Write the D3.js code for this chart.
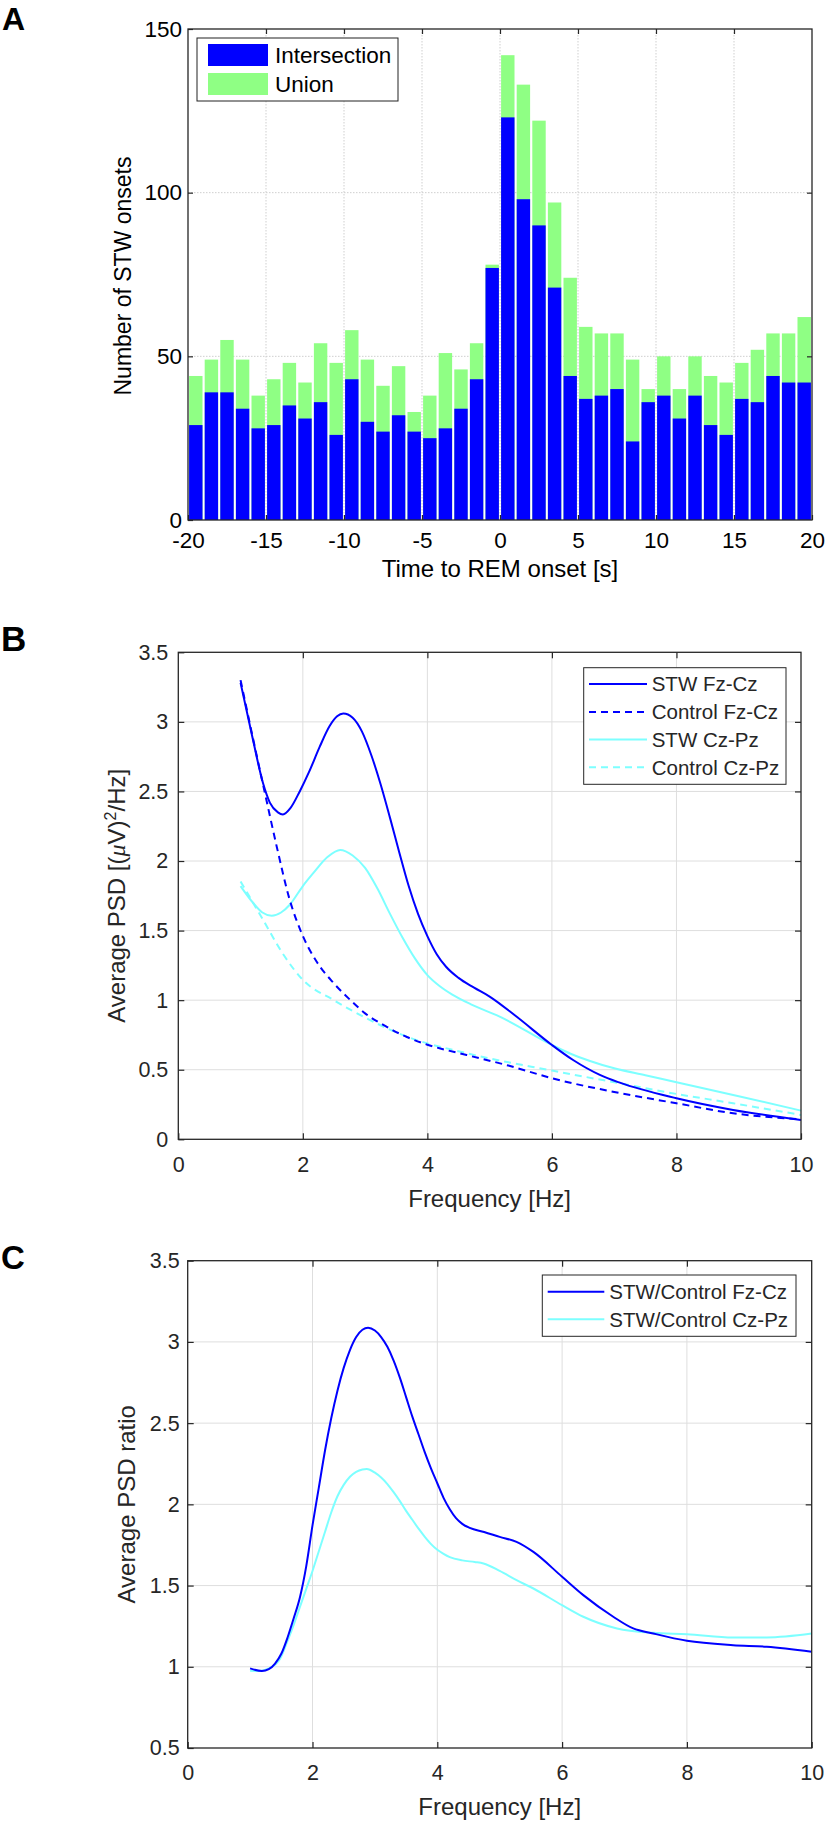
<!DOCTYPE html>
<html><head><meta charset="utf-8">
<script src="https://cdn.jsdelivr.net/npm/d3@7"></script>
<style>
body{margin:0;background:#fff}
svg{display:block}
text{font-family:"Liberation Sans",Arial,Helvetica,sans-serif}
</style>
</head><body>
<svg id="chart" width="826" height="1821"></svg>
<script>
// ---------- Panel A data ----------
const binCenters = [-19.5,-18.5,-17.5,-16.5,-15.5,-14.5,-13.5,-12.5,-11.5,-10.5,-9.5,-8.5,-7.5,-6.5,-5.5,-4.5,-3.5,-2.5,-1.5,-0.5,
  0.5,1.5,2.5,3.5,4.5,5.5,6.5,7.5,8.5,9.5,10.5,11.5,12.5,13.5,14.5,15.5,16.5,17.5,18.5,19.5];
const intersectionCounts = [29,39,39,34,28,29,35,31,36,26,43,30,27,32,27,25,28,34,43,77,
  123,98,90,71,44,37,38,40,24,36,38,31,38,29,26,37,36,44,42,42];
const unionCounts = [44,49,55,49,38,43,48,42,54,48,58,49,41,47,33,38,51,46,54,78,
  142,133,122,97,74,59,57,57,49,40,50,40,50,44,42,48,52,57,57,62];
const aXTicks = [-20,-15,-10,-5,0,5,10,15,20];
const aYTicks = [0,50,100,150];

// ---------- Panel B data (frequency Hz, PSD) ----------
const stwFzCz = [[1.0,3.28],[1.2,2.87],[1.36,2.56],[1.47,2.42],[1.6,2.35],[1.68,2.335],[1.8,2.38],[1.95,2.50],[2.1,2.64],
  [2.27,2.82],[2.43,2.97],[2.55,3.04],[2.65,3.06],[2.8,3.03],[2.95,2.93],[3.1,2.76],[3.25,2.55],[3.4,2.31],[3.55,2.06],
  [3.7,1.82],[3.85,1.62],[4.0,1.46],[4.15,1.33],[4.3,1.24],[4.5,1.16],[4.75,1.09],[5.0,1.026],[5.43,0.882],[6.0,0.678],
  [6.34,0.57],[6.77,0.463],[7.09,0.407],[8.0,0.295],[8.91,0.211],[10.0,0.139]];
const ctlFzCz = [[1.0,3.30],[1.2,2.88],[1.39,2.49],[1.58,2.105],[1.79,1.72],[1.98,1.482],[2.22,1.278],[2.5,1.12],
  [2.76,1.002],[3.0,0.905],[3.3,0.82],[3.67,0.735],[4.0,0.68],[4.63,0.606],[5.3,0.53],[6.0,0.439],[7.0,0.34],
  [8.0,0.259],[8.91,0.187],[10.0,0.144]];
const stwCzPz = [[1.0,1.82],[1.2,1.70],[1.35,1.63],[1.5,1.607],[1.65,1.63],[1.79,1.686],[2.0,1.82],[2.17,1.914],
  [2.4,2.03],[2.6,2.08],[2.8,2.04],[3.0,1.95],[3.2,1.80],[3.4,1.62],[3.6,1.45],[3.8,1.30],[4.0,1.18],[4.2,1.10],
  [4.4,1.04],[4.7,0.97],[5.16,0.882],[6.0,0.678],[6.3,0.615],[6.6,0.565],[7.0,0.51],[7.5,0.46],[8.0,0.41],[9.0,0.31],[10.0,0.206]];
const ctlCzPz = [[1.0,1.853],[1.2,1.70],[1.36,1.578],[1.69,1.326],[2.0,1.146],[2.49,1.002],[3.02,0.87],[3.67,0.738],
  [4.63,0.619],[6.0,0.494],[7.0,0.41],[8.0,0.326],[8.91,0.259],[10.0,0.175]];
const bXTicks = [0,2,4,6,8,10];
const bYTicks = [0,0.5,1,1.5,2,2.5,3,3.5];

// ---------- Panel C data (frequency Hz, ratio) ----------
const ratioFzCz = [[1.0,0.99],[1.19,0.974],[1.3,0.985],[1.4,1.02],[1.5,1.08],[1.6,1.18],[1.7,1.30],[1.8,1.43],[1.9,1.62],
  [2.0,1.87],[2.1,2.10],[2.2,2.33],[2.3,2.53],[2.4,2.70],[2.5,2.84],[2.6,2.95],[2.7,3.03],[2.8,3.075],[2.89,3.087],
  [3.0,3.07],[3.1,3.03],[3.2,2.97],[3.3,2.885],[3.4,2.78],[3.5,2.66],[3.6,2.54],[3.7,2.43],[3.8,2.32],[3.9,2.22],
  [4.0,2.13],[4.1,2.04],[4.2,1.97],[4.3,1.915],[4.4,1.88],[4.52,1.855],[4.75,1.83],[5.0,1.80],[5.27,1.769],[5.54,1.707],
  [6.0,1.554],[6.34,1.441],[6.82,1.308],[7.14,1.236],[7.46,1.205],[8.0,1.16],[8.74,1.133],[9.28,1.123],[10.0,1.092]];
const ratioCzPz = [[1.0,0.975],[1.16,0.974],[1.3,0.99],[1.48,1.05],[1.6,1.16],[1.7,1.26],[1.8,1.37],[1.9,1.48],[2.0,1.59],
  [2.1,1.71],[2.2,1.83],[2.3,1.95],[2.4,2.05],[2.5,2.12],[2.6,2.17],[2.7,2.20],[2.8,2.215],[2.87,2.218],[3.0,2.195],
  [3.1,2.165],[3.2,2.125],[3.3,2.075],[3.4,2.02],[3.5,1.96],[3.6,1.905],[3.7,1.85],[3.8,1.80],[3.9,1.755],[4.0,1.72],
  [4.1,1.695],[4.2,1.675],[4.4,1.655],[4.6,1.645],[4.74,1.636],[5.0,1.59],[5.27,1.533],[5.54,1.482],[6.0,1.379],
  [6.34,1.308],[6.88,1.236],[7.46,1.209],[8.0,1.201],[8.74,1.181],[9.28,1.181],[10.0,1.205]];
const cXTicks = [0,2,4,6,8,10];
const cYTicks = [0.5,1,1.5,2,2.5,3,3.5];

const BLUE = "#0000ff", CYAN = "#7dffff", GREEN = "#8fff84";
const svg = d3.select("#chart");
svg.append("rect").attr("width",826).attr("height",1821).attr("fill","#fff");

function frame(x, y, xt, yt, o) {
  const [x0,x1] = x.range(), [y0,y1] = y.range();
  const g = svg.append("g");
  g.selectAll(".gx").data(xt.slice(1,-1)).join("line")
    .attr("x1",d=>x(d)).attr("x2",d=>x(d)).attr("y1",y1).attr("y2",y0)
    .attr("stroke",o.grid).attr("stroke-width",1).attr("stroke-dasharray",o.gridDash||null);
  g.selectAll(".gy").data(yt.slice(1,-1)).join("line")
    .attr("y1",d=>y(d)).attr("y2",d=>y(d)).attr("x1",x0).attr("x2",x1)
    .attr("stroke",o.grid).attr("stroke-width",1).attr("stroke-dasharray",o.gridDash||null);
  return g;
}
function axes(x, y, xt, yt, o) {
  const [x0,x1] = x.range(), [y0,y1] = y.range();
  const g = svg.append("g");
  const bottom = g.append("g").attr("transform",`translate(0,${y0})`)
    .call(d3.axisBottom(x).tickValues(xt).tickFormat(d=>String(d)).tickSizeInner(-o.tick).tickSizeOuter(0).tickPadding(o.xpad));
  const top = g.append("g").attr("transform",`translate(0,${y1})`)
    .call(d3.axisTop(x).tickValues(xt.slice(1,-1)).tickFormat("").tickSizeInner(-o.tick).tickSizeOuter(0));
  const left = g.append("g").attr("transform",`translate(${x0},0)`)
    .call(d3.axisLeft(y).tickValues(yt).tickFormat(d=>String(d)).tickSizeInner(-o.tick).tickSizeOuter(0).tickPadding(o.ypad));
  const right = g.append("g").attr("transform",`translate(${x1},0)`)
    .call(d3.axisRight(y).tickValues(yt.slice(1,-1)).tickFormat("").tickSizeInner(-o.tick).tickSizeOuter(0));
  [bottom,top,left,right].forEach(a=>{
    a.select(".domain").remove();
    a.selectAll(".tick line").attr("stroke",o.axis).attr("stroke-width",1.2);
    a.selectAll(".tick text").attr("fill",o.text).style("font-size",o.fs+"px")
      .style("font-family",'"Liberation Sans",Arial,sans-serif');
  });
  g.append("rect").attr("x",x0).attr("y",y1).attr("width",x1-x0).attr("height",y0-y1)
    .attr("fill","none").attr("stroke",o.axis).attr("stroke-width",1.3);
}

// ================= Panel A =================
{
  const x = d3.scaleLinear().domain([-20,20]).range([188,812]);
  const y = d3.scaleLinear().domain([0,150]).range([520,29]);
  frame(x,y,aXTicks,aYTicks,{grid:"#cfcfcf",gridDash:"1.5,1.5"});
  const bw = 0.86;
  const g = svg.append("g");
  g.selectAll(".u").data(binCenters).join("rect")
    .attr("x",(d)=>x(d-bw/2)).attr("width",(d)=>x(d+bw/2)-x(d-bw/2))
    .attr("y",(d,i)=>y(unionCounts[i])).attr("height",(d,i)=>y(0)-y(unionCounts[i]))
    .attr("fill",GREEN);
  g.selectAll(".i").data(binCenters).join("rect")
    .attr("x",(d)=>x(d-bw/2)).attr("width",(d)=>x(d+bw/2)-x(d-bw/2))
    .attr("y",(d,i)=>y(intersectionCounts[i])).attr("height",(d,i)=>y(0)-y(intersectionCounts[i]))
    .attr("fill",BLUE);
  axes(x,y,aXTicks,aYTicks,{axis:"#262626",text:"#000",tick:5,fs:22.5,xpad:12,ypad:6});
  const lg = svg.append("g");
  lg.append("rect").attr("x",197).attr("y",38).attr("width",201).attr("height",63)
    .attr("fill","#fff").attr("stroke","#222").attr("stroke-width",1);
  [["Intersection",BLUE,55],["Union",GREEN,84]].forEach(([t,c,cy])=>{
    lg.append("rect").attr("x",208).attr("y",cy-11).attr("width",60).attr("height",22).attr("fill",c);
    lg.append("text").attr("x",275).attr("y",cy+8.3).attr("font-size",22.5).attr("fill","#000").text(t);
  });
  svg.append("text").attr("x",500).attr("y",577).attr("text-anchor","middle")
    .attr("font-size",24).attr("fill","#000").text("Time to REM onset [s]");
  svg.append("text").attr("transform","translate(131,276) rotate(-90)").attr("text-anchor","middle")
    .attr("font-size",23).attr("fill","#000").text("Number of STW onsets");
  svg.append("text").attr("x",2).attr("y",30).attr("font-size",32).attr("font-weight","bold").text("A");
}

const lineGen = (x,y) => d3.line().x(d=>x(d[0])).y(d=>y(d[1])).curve(d3.curveMonotoneX);

// ================= Panel B =================
{
  const x = d3.scaleLinear().domain([0,10]).range([178.3,801]);
  const y = d3.scaleLinear().domain([0,3.5]).range([1139.3,652.3]);
  frame(x,y,bXTicks,bYTicks,{grid:"#dedede"});
  const L = lineGen(x,y);
  const series = [
    {d:ctlCzPz,c:CYAN,dash:"7,5"},
    {d:stwCzPz,c:CYAN,dash:null},
    {d:ctlFzCz,c:BLUE,dash:"7,5"},
    {d:stwFzCz,c:BLUE,dash:null}
  ];
  series.forEach(s=>svg.append("path").attr("d",L(s.d)).attr("fill","none").attr("stroke",s.c)
    .attr("stroke-width",2).attr("stroke-dasharray",s.dash));
  axes(x,y,bXTicks,bYTicks,{axis:"#262626",text:"#262626",tick:6,fs:21.5,xpad:17,ypad:10});
  const lg = svg.append("g");
  lg.append("rect").attr("x",583.7).attr("y",667.7).attr("width",202.3).attr("height",116.6)
    .attr("fill","#fff").attr("stroke","#262626").attr("stroke-width",1);
  [["STW Fz-Cz",BLUE,null,684],["Control Fz-Cz",BLUE,"7,5",712],["STW Cz-Pz",CYAN,null,739.5],["Control Cz-Pz",CYAN,"7,5",767.3]]
  .forEach(([t,c,dash,cy])=>{
    lg.append("line").attr("x1",589).attr("x2",647).attr("y1",cy).attr("y2",cy)
      .attr("stroke",c).attr("stroke-width",2).attr("stroke-dasharray",dash);
    lg.append("text").attr("x",651.7).attr("y",cy+7.4).attr("font-size",20.5).attr("fill","#262626").text(t);
  });
  svg.append("text").attr("x",489.6).attr("y",1207).attr("text-anchor","middle")
    .attr("font-size",24).attr("fill","#262626").text("Frequency [Hz]");
  const yl = svg.append("text").attr("transform","translate(125,895.8) rotate(-90)").attr("text-anchor","middle")
    .attr("font-size",24).attr("fill","#262626");
  yl.append("tspan").text("Average PSD [(");
  yl.append("tspan").attr("font-style","italic").attr("font-family",'"Liberation Serif","Times New Roman",serif').text("μ");
  yl.append("tspan").text("V)");
  yl.append("tspan").attr("dy",-9).attr("font-size",16).text("2");
  yl.append("tspan").attr("dy",9).text("/Hz]");
  svg.append("text").attr("x",1).attr("y",651).attr("font-size",35).attr("font-weight","bold").text("B");
}

// ================= Panel C =================
{
  const x = d3.scaleLinear().domain([0,10]).range([187.7,811.7]);
  const y = d3.scaleLinear().domain([0.5,3.5]).range([1748,1260.7]);
  frame(x,y,cXTicks,cYTicks,{grid:"#dedede"});
  const L = lineGen(x,y);
  svg.append("path").attr("d",L(ratioCzPz)).attr("fill","none").attr("stroke",CYAN).attr("stroke-width",2);
  svg.append("path").attr("d",L(ratioFzCz)).attr("fill","none").attr("stroke",BLUE).attr("stroke-width",2);
  axes(x,y,cXTicks,cYTicks,{axis:"#262626",text:"#262626",tick:6,fs:21.5,xpad:17,ypad:8});
  const lg = svg.append("g");
  lg.append("rect").attr("x",542.3).attr("y",1275).attr("width",253.7).attr("height",61.3)
    .attr("fill","#fff").attr("stroke","#262626").attr("stroke-width",1);
  [["STW/Control Fz-Cz",BLUE,1291.7],["STW/Control Cz-Pz",CYAN,1319.3]].forEach(([t,c,cy])=>{
    lg.append("line").attr("x1",547.7).attr("x2",604.3).attr("y1",cy).attr("y2",cy)
      .attr("stroke",c).attr("stroke-width",2);
    lg.append("text").attr("x",609.3).attr("y",cy+7.4).attr("font-size",20.5).attr("fill","#262626").text(t);
  });
  svg.append("text").attr("x",499.7).attr("y",1815).attr("text-anchor","middle")
    .attr("font-size",24).attr("fill","#262626").text("Frequency [Hz]");
  svg.append("text").attr("transform","translate(135,1504.3) rotate(-90)").attr("text-anchor","middle")
    .attr("font-size",24).attr("fill","#262626").text("Average PSD ratio");
  svg.append("text").attr("x",1).attr("y",1269).attr("font-size",33).attr("font-weight","bold").text("C");
}
</script>
</body></html>
